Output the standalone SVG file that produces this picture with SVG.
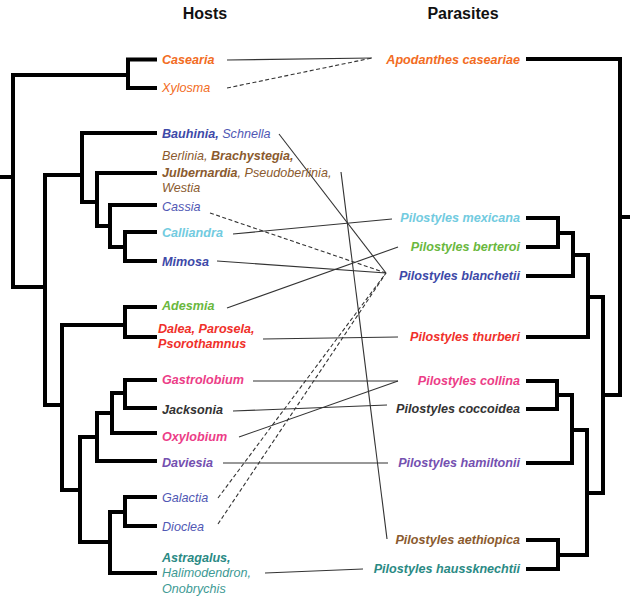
<svg xmlns="http://www.w3.org/2000/svg" width="630" height="602" viewBox="0 0 630 602">
<style>
text{font-family:"Liberation Sans",Arial,sans-serif;font-size:12.6px;font-style:italic}
.b{font-weight:bold}
.t{font-size:16px;font-weight:bold;font-style:normal;fill:#111;text-anchor:middle}
.r{text-anchor:end;font-weight:bold}
.tree{fill:none;stroke:#000;stroke-width:4;stroke-linejoin:miter;stroke-linecap:square}
.c{fill:none;stroke:#333;stroke-width:1.1}
.d{stroke-dasharray:4,2.5}
.or{fill:#f26c23}.bl{fill:#3d49a8}.bl2{fill:#5058b4}.br{fill:#8a5a2e}.cy{fill:#72cbe0}.gr{fill:#6ab83e}.rd{fill:#f0302a}.pk{fill:#ec3d87}.dk{fill:#333}.pu{fill:#7450b0}.tl{fill:#2a8a84}.tl2{fill:#3d9a94}
</style>
<text class="t" x="205" y="19">Hosts</text>
<text class="t" x="463" y="19">Parasites</text>
<g id="host-tree">
<path class="tree" d="M155,59.5 H128 V88 H155 M128,75 H13 V287 H45 M0,177 H13 M45,175 V405 M45,175 H82 M155,133 H82 V202 H97 M155,173 H97 V226 H110 M155,205 H110 V247 H125 M155,232 H125 V261 H155 M45,405 H62 M155,307 H125 V337 H155 M125,325 H62 V490 H80 M155,380 H125 V408 H155 M125,393 H112 V433 H155 M112,413 H97 V461 H155 M97,437 H80 V542 H110 M155,497 H125 V526 H155 M125,512 H110 V573 H155"/>
</g>
<g id="parasite-tree">
<path class="tree" d="M528,59 H620 V395 M620,217 H630 M528,218 H558 V247 H528 M558,233 H573 V276 H528 M573,255 H588 V337 H528 M588,297 H603 V493 M603,395 H620 M528,381 H557 V409 H528 M557,395 H572 V463 H528 M572,430 H587 V555 M587,493 H603 M528,540 H558 V569 H528 M558,555 H587"/>
</g>
<g id="connectors">
<line class="c" x1="227" y1="60" x2="372" y2="58"/>
<line class="c d" x1="227" y1="88" x2="372" y2="58"/>
<line class="c" x1="279" y1="134" x2="386" y2="273"/>
<line class="c" x1="341" y1="172" x2="387" y2="539"/>
<line class="c d" x1="210" y1="213" x2="386" y2="273"/>
<line class="c" x1="233" y1="234" x2="392" y2="219"/>
<line class="c" x1="217" y1="261" x2="386" y2="273"/>
<line class="c" x1="227" y1="308" x2="398" y2="247"/>
<line class="c" x1="263" y1="339" x2="398" y2="337"/>
<line class="c" x1="253" y1="381" x2="398" y2="381"/>
<line class="c" x1="233" y1="411" x2="387" y2="405"/>
<line class="c" x1="239" y1="437" x2="398" y2="381"/>
<line class="c" x1="223" y1="463" x2="388" y2="463"/>
<line class="c d" x1="218" y1="498" x2="386" y2="273"/>
<line class="c d" x1="218" y1="524" x2="386" y2="273"/>
<line class="c" x1="265" y1="573" x2="363" y2="569"/>
</g>
<g id="hosts">
<g id="h-casearia"><text class="b or" x="162" y="64">Casearia</text></g>
<g id="h-xylosma"><text class="or" x="162" y="92">Xylosma</text></g>
<g id="h-bauhinia"><text class="bl" x="162" y="138"><tspan class="b">Bauhinia,</tspan> <tspan class="bl2">Schnella</tspan></text></g>
<g id="h-berlinia"><text class="br" x="162" y="160">Berlinia, <tspan class="b">Brachystegia,</tspan></text>
<text class="br" x="162" y="177"><tspan class="b">Julbernardia</tspan>, Pseudoberlinia,</text>
<text class="br" x="162" y="192">Westia</text></g>
<g id="h-cassia"><text class="bl2" x="162" y="211">Cassia</text></g>
<g id="h-calliandra"><text class="b cy" x="162" y="237">Calliandra</text></g>
<g id="h-mimosa"><text class="b bl" x="162" y="266">Mimosa</text></g>
<g id="h-adesmia"><text class="b gr" x="162" y="310">Adesmia</text></g>
<g id="h-dalea"><text class="b rd" x="158" y="333">Dalea, Parosela,</text>
<text class="b rd" x="158" y="348">Psorothamnus</text></g>
<g id="h-gastrolobium"><text class="b pk" x="162" y="384">Gastrolobium</text></g>
<g id="h-jacksonia"><text class="b dk" x="162" y="414">Jacksonia</text></g>
<g id="h-oxylobium"><text class="b pk" x="162" y="441">Oxylobium</text></g>
<g id="h-daviesia"><text class="b pu" x="162" y="467">Daviesia</text></g>
<g id="h-galactia"><text class="bl2" x="162" y="502">Galactia</text></g>
<g id="h-dioclea"><text class="bl2" x="162" y="531">Dioclea</text></g>
<g id="h-astragalus"><text class="b tl" x="162" y="562">Astragalus,</text>
<text class="tl2" x="162" y="577">Halimodendron,</text>
<text class="tl2" x="162" y="593">Onobrychis</text></g>
</g>
<g id="parasites">
<g id="p-apodanthes"><text class="r or" x="520" y="64">Apodanthes caseariae</text></g>
<g id="p-mexicana"><text class="r cy" x="520" y="222">Pilostyles mexicana</text></g>
<g id="p-berteroi"><text class="r gr" x="520" y="251">Pilostyles berteroi</text></g>
<g id="p-blanchetii"><text class="r bl" x="520" y="280">Pilostyles blanchetii</text></g>
<g id="p-thurberi"><text class="r rd" x="520" y="341">Pilostyles thurberi</text></g>
<g id="p-collina"><text class="r pk" x="520" y="385">Pilostyles collina</text></g>
<g id="p-coccoidea"><text class="r dk" x="520" y="413">Pilostyles coccoidea</text></g>
<g id="p-hamiltonii"><text class="r pu" x="520" y="467">Pilostyles hamiltonii</text></g>
<g id="p-aethiopica"><text class="r br" x="520" y="544">Pilostyles aethiopica</text></g>
<g id="p-haussknechtii"><text class="r tl" x="520" y="573">Pilostyles haussknechtii</text></g>
</g>
</svg>
